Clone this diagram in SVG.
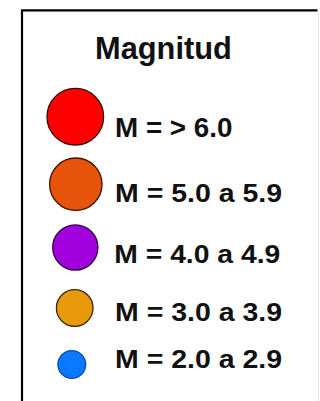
<svg xmlns="http://www.w3.org/2000/svg" width="320" height="401" viewBox="0 0 320 401">
<style>
  .lbl { font-family: "Liberation Sans", Arial, sans-serif; font-weight: bold; fill: #111; }
  .row { font-size: 26.5px; }
  .dot { stroke-width: 1.3; }
</style>
<rect x="0" y="0" width="320" height="401" fill="#ffffff"/>
<g id="frame">
  <path d="M22 402 V10.3 H317.5" fill="none" stroke="#000" stroke-width="2.2"/>
  <line x1="318.5" y1="12" x2="318.5" y2="401" stroke="#e4e4e4" stroke-width="1"/>
</g>
<g id="title"><text class="lbl" x="95" y="59" font-size="30.8">Magnitud</text></g>
<g id="m6">
  <circle class="dot" cx="75.3" cy="116.7" r="28.3" fill="#ff0000" stroke="#3a0a00"/>
  <text class="lbl" x="115" y="137" font-size="27.8">M = &gt; 6.0</text>
</g>
<g id="m5">
  <circle class="dot" cx="75.8" cy="184.2" r="26.2" fill="#e6540b" stroke="#3a1400"/>
  <text class="lbl row" x="115" y="201.7" textLength="167" lengthAdjust="spacingAndGlyphs">M = 5.0 a 5.9</text>
</g>
<g id="m4">
  <circle class="dot" cx="75.3" cy="247.5" r="22.6" fill="#a000dc" stroke="#2a0040"/>
  <text class="lbl row" x="114.3" y="263.3" textLength="166" lengthAdjust="spacingAndGlyphs">M = 4.0 a 4.9</text>
</g>
<g id="m3">
  <circle class="dot" cx="74.7" cy="308" r="18.3" fill="#e89a0a" stroke="#3a2600"/>
  <text class="lbl row" x="115" y="321" textLength="167" lengthAdjust="spacingAndGlyphs">M = 3.0 a 3.9</text>
</g>
<g id="m2">
  <circle class="dot" cx="71.8" cy="364.5" r="13.9" fill="#0a78ff" stroke="#0a4ab0"/>
  <text class="lbl row" x="115" y="367.7" textLength="167" lengthAdjust="spacingAndGlyphs">M = 2.0 a 2.9</text>
</g>
</svg>
